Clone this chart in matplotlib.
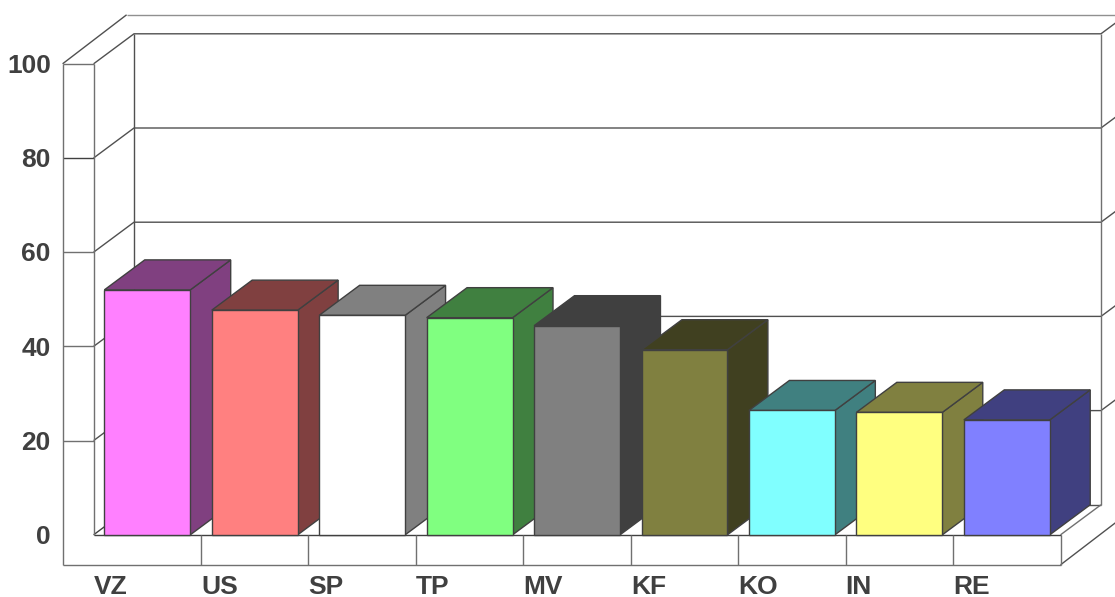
import matplotlib
matplotlib.use('Agg')
import matplotlib.pyplot as plt
from matplotlib.patches import Polygon

categories = ['VZ', 'US', 'SP', 'TP', 'MV', 'KF', 'KO', 'IN', 'RE']
values = [52.0, 47.7, 46.6, 46.1, 44.4, 39.3, 26.4, 26.0, 24.4]
front_colors = ['#FF80FF', '#FF8080', '#FFFFFF', '#80FF80', '#808080', '#808040', '#80FFFF', '#FFFF80', '#8080FF']
side_colors = ['#804080', '#804040', '#808080', '#408040', '#404040', '#404020', '#408080', '#808040', '#404080']
y_ticks = [0, 20, 40, 60, 80, 100]

W, H = 1115, 597
# pixel position of the plot's origin and size of one unit
x0, y0 = 93.6, 534.8
xu, yu = 107.44, 4.71

fig = plt.figure(figsize=(W / 100, H / 100), dpi=100)
ax = fig.add_axes([0, 0, 1, 1])
ax.set_xlim(-x0 / xu, (W - x0) / xu)
ax.set_ylim((y0 - H) / yu, y0 / yu)
ax.axis('off')

n = len(categories)
# depth of the walls and of the outer frame, in data units
dx, dy = 40.4 / xu, 30 / yu
odx, ody = 64 / xu, 49 / yu
# front ledge
lx, ly = 31 / xu, 30 / yu

GREY = '#707070'
MID = '#505050'
DARK = '#404040'
LW = 1.0


def line(xs, ys, c=DARK, lw=LW):
    ax.plot(xs, ys, color=c, lw=lw, solid_capstyle='butt', zorder=1)


# back wall and grid
for t in y_ticks[1:]:
    line([0, dx, n + dx, n + 2 * dx], [t, t + dy, t + dy, t + 2 * dy], MID)
    line([-lx, 0], [t, t], DARK if t == 80 else GREY)
line([dx, n + dx], [dy, dy], MID)
line([dx, dx], [dy, 100 + dy], MID)
line([n + dx, n + dx], [dy, 100 + dy], GREY)
line([0, dx], [0, dy], DARK)
line([n, n + dx], [0, dy], GREY)

# left wall and outer frame
line([0, 0], [0, 100], GREY)
line([-lx, -lx], [-ly, 100], GREY)
line([-lx, -lx + odx], [100, 100 + ody], MID)
line([-lx + odx, n + 1], [100 + ody, 100 + ody], '#909090')
line([-lx, n], [-ly, -ly], GREY)
line([n, n + odx], [-ly, -ly + ody], MID)
line([n, n], [-ly, 0], GREY)
line([0, n], [0, 0], DARK)
for i in range(1, n):
    line([i, i], [-ly, 0], GREY)

# bars
for i in range(n):
    a, b, v = i + 0.1, i + 0.9, values[i]
    ax.add_patch(Polygon([(b, 0), (b + dx, dy), (b + dx, v + dy), (b, v)], fc=side_colors[i], ec=DARK, lw=LW, zorder=3))
    ax.add_patch(Polygon([(a, v), (b, v), (b + dx, v + dy), (a + dx, v + dy)], fc=side_colors[i], ec=DARK, lw=LW, zorder=3))
    ax.add_patch(Polygon([(a, 0), (b, 0), (b, v), (a, v)], fc=front_colors[i], ec=DARK, lw=LW, zorder=4))

font = dict(family='Liberation Sans', fontweight='bold', fontsize=19, color=DARK)
for t in y_ticks:
    ax.text(-42.8 / xu, t - 0.45, str(t), ha='right', va='center', **font)
for i, c in enumerate(categories):
    ax.text(i, -52 / yu, c, ha='left', va='center', **font)

fig.savefig('out.png', dpi=100)
